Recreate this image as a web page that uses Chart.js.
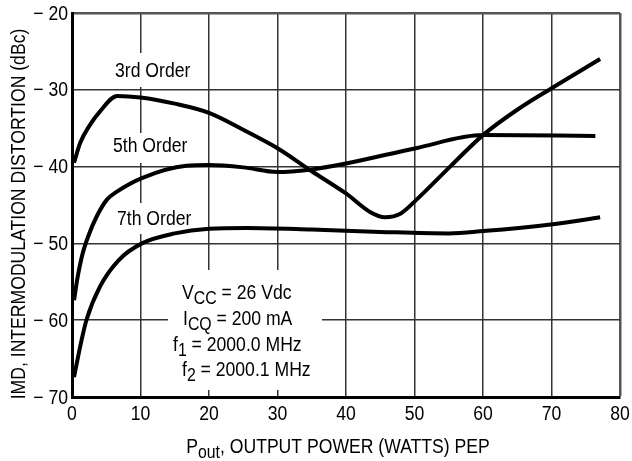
<!DOCTYPE html>
<html>
<head>
<meta charset="utf-8">
<script src="https://cdn.jsdelivr.net/npm/chart.js@4"></script>
<style>
  body { margin: 0; background: #fff; }
  #wrap { width: 632px; height: 461px; }
</style>
</head>
<body>
<div id="wrap"><canvas id="imd-chart" width="632" height="461"></canvas></div>
<script>
// values (Pout in W, IMD in dBc)
const order3Power = [0.3, 1.2, 2.6, 4.1, 6.6, 10, 15, 20, 25, 30, 35, 40, 43.5, 45.7, 48, 50.3, 55.2, 60, 65, 70.2, 77.1];
const order3Imd = [-39.5, -36.9, -34.6, -32.8, -30.8, -31.0, -31.8, -33.0, -35.2, -37.6, -40.6, -43.5, -45.9, -46.6, -46.1, -44.3, -40.0, -35.9, -32.6, -29.7, -26.0];

const order5Power = [0.3, 0.8, 1.5, 2.4, 3.6, 5.1, 6.5, 10.2, 16.7, 20, 25, 30, 34.7, 40, 50.2, 60, 76.4];
const order5Imd = [-57.4, -54.5, -51.5, -49.0, -46.5, -44.3, -43.3, -41.5, -39.9, -39.8, -40.1, -40.7, -40.4, -39.6, -37.6, -35.9, -36.0];

const order7Power = [0.3, 1.2, 2.1, 4.1, 6.8, 10.2, 15, 20, 25.5, 35, 45, 55, 60, 70.2, 77.1];
const order7Imd = [-67.4, -63.4, -60.0, -55.6, -52.2, -50.0, -48.7, -48.1, -48.0, -48.2, -48.5, -48.7, -48.4, -47.5, -46.6];

const xTicks = [0, 10, 20, 30, 40, 50, 60, 70, 80];
const yTicks = [-20, -30, -40, -50, -60, -70];

const FONT = '"Liberation Sans", Arial, sans-serif';
const SX = 0.88;

function toPoints(xs, ys) {
  return xs.map((x, i) => ({ x: x, y: ys[i] }));
}

function drawText(ctx, str, x, y, size, align) {
  ctx.save();
  ctx.font = size + 'px ' + FONT;
  ctx.textAlign = align || 'left';
  ctx.translate(x, y);
  ctx.scale(SX, 1);
  ctx.fillText(str, 0, 0);
  const w = ctx.measureText(str).width * SX;
  ctx.restore();
  return w;
}

// text made of [string, isSubscript] runs, starting at x
function drawRuns(ctx, runs, x, y) {
  let cx = x;
  for (const [str, sub] of runs) {
    cx += drawText(ctx, str, cx, sub ? y + 5 : y, sub ? 18 : 20);
  }
  return cx - x;
}

function runsWidth(ctx, runs) {
  let w = 0;
  for (const [str, sub] of runs) {
    ctx.font = (sub ? 18 : 20) + 'px ' + FONT;
    w += ctx.measureText(str).width * SX;
  }
  return w;
}

const labelPlugin = {
  id: 'labels',
  beforeDatasetsDraw(chart) {
    const ctx = chart.ctx;
    const xs = chart.scales.x;
    const ys = chart.scales.y;
    ctx.save();

    // label backgrounds cut the grid
    ctx.fillStyle = '#fff';
    ctx.fillRect(102, 53, 100, 34);
    ctx.fillRect(104, 133, 96, 30);
    ctx.fillRect(106, 203, 98, 31);
    ctx.fillRect(168, 270, 154, 120);

    ctx.fillStyle = '#000';
    ctx.textBaseline = 'alphabetic';
    drawText(ctx, '3rd Order', 115, 77, 20);
    drawText(ctx, '5th Order', 113, 152, 20);
    drawText(ctx, '7th Order', 117, 225, 20);

    drawRuns(ctx, [['V', false], ['CC', true], [' = 26 Vdc', false]], 182, 299);
    drawRuns(ctx, [['I', false], ['CQ', true], [' = 200 mA', false]], 183, 325);
    drawRuns(ctx, [['f', false], ['1', true], [' = 2000.0 MHz', false]], 173, 351);
    drawRuns(ctx, [['f', false], ['2', true], [' = 2000.1 MHz', false]], 182, 376);

    // tick labels
    ctx.textBaseline = 'middle';
    for (const v of yTicks) {
      drawText(ctx, '\u2212 ' + Math.abs(v), 68, ys.getPixelForValue(v) + 1, 20, 'right');
    }
    ctx.textBaseline = 'alphabetic';
    for (const v of xTicks) {
      drawText(ctx, String(v), xs.getPixelForValue(v), 420, 20, 'center');
    }

    // axis titles
    const xTitle = [['P', false], ['out', true], [', OUTPUT POWER (WATTS) PEP', false]];
    const tw = runsWidth(ctx, xTitle);
    drawRuns(ctx, xTitle, 338 - tw / 2, 453);

    ctx.save();
    ctx.translate(25, 214);
    ctx.rotate(-Math.PI / 2);
    drawText(ctx, 'IMD, INTERMODULATION DISTORTION (dBc)', 0, 0, 20, 'center');
    ctx.restore();

    ctx.restore();
  }
};

function edgeWidth(edge, normal, thick) {
  return (c) => (c.tick && c.tick.value === edge ? thick : normal);
}

function makeSeries(label, xs, ys) {
  return {
    label: label,
    data: toPoints(xs, ys),
    borderColor: '#000',
    borderWidth: 4,
    pointRadius: 0,
    fill: false,
    cubicInterpolationMode: 'monotone'
  };
}

new Chart(document.getElementById('imd-chart'), {
  type: 'line',
  data: {
    datasets: [
      makeSeries('3rd Order', order3Power, order3Imd),
      makeSeries('5th Order', order5Power, order5Imd),
      makeSeries('7th Order', order7Power, order7Imd)
    ]
  },
  options: {
    responsive: false,
    animation: false,
    devicePixelRatio: 1,
    layout: { padding: { left: 72, right: 12, top: 13, bottom: 64 } },
    plugins: { legend: { display: false }, tooltip: { enabled: false } },
    scales: {
      x: {
        type: 'linear',
        min: 0,
        max: 80,
        ticks: { stepSize: 10, display: false },
        grid: { color: (c) => (c.tick && c.tick.value === 80 ? '#555' : '#333'), lineWidth: edgeWidth(80, 1.5, 2.5), drawTicks: false },
        border: { color: '#000', width: 3 },
        afterFit: (scale) => { scale.height = 0; }
      },
      y: {
        min: -70,
        max: -20,
        ticks: { stepSize: 10, display: false },
        grid: { color: (c) => (c.tick && c.tick.value === -20 ? '#555' : '#333'), lineWidth: edgeWidth(-20, 1.5, 2.5), drawTicks: false },
        border: { color: '#000', width: 3 },
        afterFit: (scale) => { scale.width = 0; }
      }
    }
  },
  plugins: [labelPlugin]
});
</script>
</body>
</html>
